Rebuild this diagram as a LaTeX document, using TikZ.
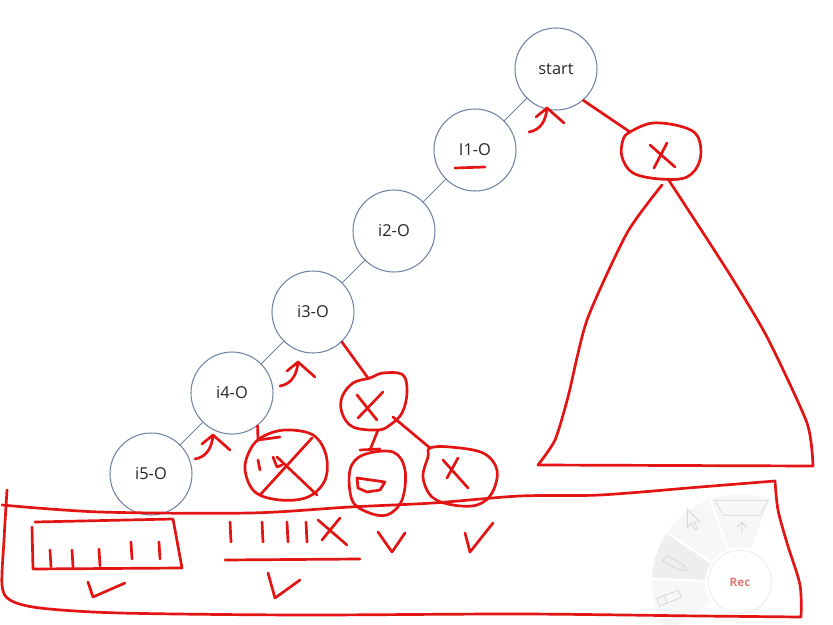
\documentclass[tikz,border=0pt]{standalone}
\usepackage{fontspec}
\setsansfont{Open Sans}
\usetikzlibrary{positioning}
\definecolor{nodeblue}{RGB}{112,130,163}
\definecolor{penred}{RGB}{226,20,20}
\definecolor{recred}{RGB}{226,122,122}
\begin{document}
\begin{tikzpicture}[x=0.03cm, y=-0.03cm, on grid,
                    main/.style = {draw=nodeblue, circle, line width=0.9pt, minimum size=2.46cm, text=black!85, font=\sffamily\fontsize{14}{16}\selectfont},
                    redpen/.style = {draw=penred, line width=2.3pt, line cap=round, line join=round},
                    hook/.pic = {\draw[redpen] (-18,24) .. controls (-6,22) and (-1,12) .. (0,0);
                                 \draw[redpen] (-11,9) -- (0,0) -- (17,15);}]
    \useasboundingbox (0,0) rectangle (833,625);
    % recorder widget, faint, bottom right
    \begin{scope}[shift={(740,582)}, x=1cm, y=1cm]
        \fill[gray!6] (70:1.05) arc[start angle=70, end angle=215, radius=1.05] -- (215:2.64) arc[start angle=215, end angle=70, radius=2.64] -- cycle;
        \fill[gray!13] (146:1.05) arc[start angle=146, end angle=178, radius=1.05] -- (178:2.64) arc[start angle=178, end angle=146, radius=2.64] -- cycle;
        \foreach \a in {70,110,146,178}
            \draw[white, line width=2pt] (\a:1.05) -- (\a:2.64);
        \fill[white] (0,0) circle (1.0);
        \draw[gray!12, line width=1pt] (0,0) circle (0.95);
        \node[text=recred, font=\sffamily\bfseries\fontsize{10}{12}\selectfont] (rec) at (0,0) {Rec};
        \draw[gray!25, line width=0.8pt] (-0.75,2.45) -- (0.85,2.45) -- (0.62,2.0) -- (-0.5,2.0) -- cycle;
        \draw[gray!30, line width=0.8pt] (0.06,1.45) -- (0.06,1.78) (-0.08,1.64) -- (0.06,1.79) -- (0.2,1.64);
        \draw[gray!30, line width=0.8pt, shift={(-1.58,2.18)}] (0,0) -- (0,-0.55) -- (0.12,-0.42) -- (0.22,-0.62) -- (0.3,-0.58) -- (0.2,-0.38) -- (0.38,-0.38) -- cycle;
        \draw[gray!30, line width=0.8pt, shift={(-2.0,0.57)}, rotate=-28] (-0.3,-0.1) rectangle (0.3,0.1) (0.3,-0.1) -- (0.45,0) -- (0.3,0.1);
        \draw[gray!30, line width=0.8pt, shift={(-2.13,-0.48)}, rotate=20] (-0.35,-0.12) rectangle (0.35,0.12) (-0.1,-0.12) -- (-0.1,0.12);
    \end{scope}
    % the chain of circles
    \node[main] (1) at (556,69) {start};
    \node[main] (2) [below left=2.43cm and 2.43cm of 1] {I1-O};
    \node[main] (3) [below left=2.43cm and 2.43cm of 2] {i2-O};
    \node[main] (4) [below left=2.43cm and 2.43cm of 3] {i3-O};
    \node[main] (5) [below left=2.43cm and 2.43cm of 4] {i4-O};
    \node[main] (6) [below left=2.43cm and 2.43cm of 5] {i5-O};
    \foreach \a/\b in {1/2, 2/3, 3/4, 4/5, 5/6}
        \draw[nodeblue, line width=0.7pt] (\a) -- (\b);
    % red ink
    \draw[redpen] (455,168) -- (485,167);
    \pic at (547,108) {hook};
    \pic at (298,362) {hook};
    \pic at (213,435) {hook};
    % right subtree
    \draw[redpen] (1.-49) -- (630,132);
    \draw[redpen] plot[smooth cycle, tension=0.6] coordinates {(630,132) (653,123) (683,127) (698,137) (700,160) (687,177) (660,179) (633,173) (622,157) (623,140)};
    \draw[redpen] (650,145) -- (675,167) (667,143) -- (654,168);
    \draw[redpen] plot[smooth, tension=0.4] coordinates {(662,185) (627,233) (587,320) (568,397) (555,440) (538,465)}
                  -- (813,466)
                  -- plot[smooth, tension=0.4] coordinates {(813,466) (807,423) (767,337) (727,270) (668,179)};
    % under i3-O
    \draw[redpen] (4.-46) -- (368,378);
    \draw[redpen] plot[smooth cycle, tension=0.6] coordinates {(383,373) (403,375) (407,393) (402,413) (390,425) (378,430) (353,427) (342,413) (342,397) (353,383) (370,378)};
    \draw[redpen] (357,395) -- (377,420) (383,392) -- (358,418);
    \draw[redpen] (378,430) -- (370,450) (360,450) -- (380,449);
    \draw[redpen] plot[smooth cycle, tension=0.6] coordinates {(363,455) (393,452) (405,470) (402,500) (387,515) (367,512) (352,500) (350,470)};
    \draw[redpen] (357,478) -- (385,482) -- (380,490) -- (367,492) -- (358,488) -- cycle;
    \draw[redpen] (393,417) -- (430,448);
    \draw[redpen] plot[smooth cycle, tension=0.6] coordinates {(430,448) (450,447) (483,453) (497,470) (492,493) (477,505) (453,505) (432,497) (423,477) (428,457)};
    \draw[redpen] (443,460) -- (468,488) (458,458) -- (447,478);
    % under i4-O
    \draw[redpen] (5.-52) -- (258,440) -- (280,437);
    \draw[redpen] plot[smooth cycle, tension=0.6] coordinates {(262,437) (285,430) (313,435) (326,455) (325,480) (308,497) (280,500) (255,492) (245,470) (250,450)};
    \draw[redpen] (258,460) -- (260,470) (273,457) -- (277,467) -- (282,465);
    \draw[redpen] (260,495) -- (312,438) (277,457) -- (317,495);
    % bottom frame
    \draw[redpen] plot[smooth, tension=0.5] coordinates {(7,490) (4,540) (2,585) (10,600) (40,608) (120,613) (300,615) (520,614) (700,616) (801,617)}
                  -- plot[smooth, tension=0.5] coordinates {(801,617) (800,585) (787,543) (778,510) (775,481)}
                  -- plot[smooth, tension=0.5] coordinates {(775,481) (700,487) (600,495) (520,496) (433,503) (350,507) (250,513) (100,512) (2,505)};
    \draw[redpen] (35,522) -- (173,519) -- (182,568) -- (33,569) -- (32,527);
    \foreach \x/\y in {50/550, 72/550, 99/549, 131/542, 159/542}
        \draw[redpen] (\x,\y) -- ++(1,17);
    \draw[redpen] (88,582) -- (93,597) -- (125,583);
    \foreach \x in {230,262,287,306}
        \draw[redpen] (\x,522) -- ++(1,20);
    \draw[redpen] (318,520) -- (347,545) (340,518) -- (322,540);
    \draw[redpen] (225,560) -- (360,559);
    \draw[redpen] (268,573) -- (275,598) -- (300,580);
    \draw[redpen] (378,532) -- (392,552) -- (405,533);
    \draw[redpen] (465,533) -- (470,552) -- (493,523);
\end{tikzpicture}
\end{document}
